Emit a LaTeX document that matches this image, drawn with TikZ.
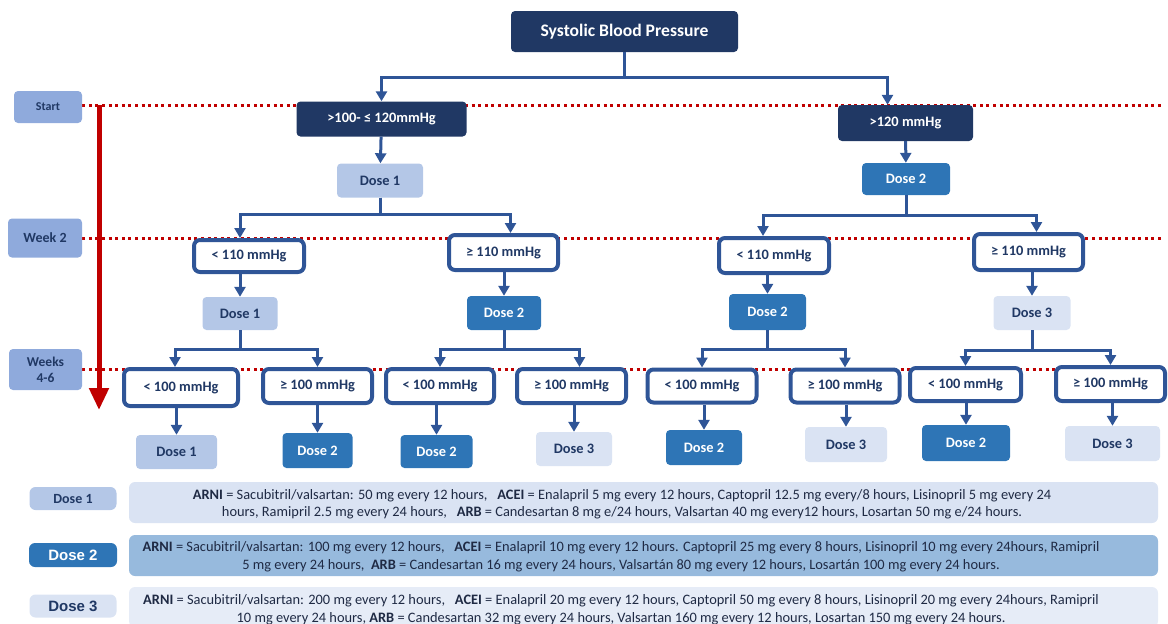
\documentclass[tikz,border=0pt]{standalone}
\usepackage{fontspec}
\setmainfont{Carlito}
\newfontfamily\arialfont{Liberation Sans}
\usetikzlibrary{arrows.meta,positioning,backgrounds}

\definecolor{navy}{HTML}{203864}
\definecolor{linkblue}{HTML}{2F5597}
\definecolor{redline}{HTML}{C00000}
\definecolor{timeblue}{HTML}{8FAADC}
\definecolor{doseA}{HTML}{B4C7E7}
\definecolor{doseB}{HTML}{2E75B6}
\definecolor{doseC}{HTML}{DAE3F3}
\definecolor{legA}{HTML}{DAE3F3}
\definecolor{legB}{HTML}{97BADD}
\definecolor{legC}{HTML}{E6ECF7}
\definecolor{legtext}{HTML}{1F2A44}

\begin{document}
\begin{tikzpicture}[x=1pt,y=-1pt,
  sz/.style 2 args={minimum width=#1pt,minimum height=#2pt},
  box/.style={rounded corners=4pt,align=center,inner sep=0pt,text=navy,
    font=\bfseries\fontsize{14.4}{16}\selectfont},
  head node/.style={box,fill=navy,text=white},
  cut node/.style={box,fill=white,draw=linkblue,line width=4pt,rounded corners=6pt},
  dose one/.style={box,fill=doseA},
  dose two/.style={box,fill=doseB,text=white},
  dose three/.style={box,fill=doseC},
  time node/.style={box,fill=timeblue,font=\bfseries\fontsize{14}{16}\selectfont},
  leg box/.style={box,rounded corners=6pt},
  leg text/.style={align=center,inner sep=0pt,text=legtext,
    font=\fontsize{14.4}{17.5}\selectfont},
  link/.style={-{Triangle[width=11pt,length=10pt]},draw=linkblue,line width=3pt},
  timeline/.style={draw=redline,line width=3pt,dash pattern=on 3pt off 3.6pt},
  bigarrow/.style={-{Triangle[width=19pt,length=22pt]},draw=redline,fill=redline,line width=5pt}]

\useasboundingbox (0,0) rectangle (1168,624);

% time axis
\node[time node,sz={68}{32},font=\bfseries\fontsize{12}{14}\selectfont] (start) at (48,107) {Start};
\node[time node,sz={74}{39}] (wk2) at (45,238) {Week 2};
\node[time node,sz={73}{41},font=\bfseries\fontsize{13.5}{16}\selectfont] (wk46) at (45.5,369.5) {Weeks\\4-6};
\coordinate (lineend) at (1162,0);
\coordinate (axtop) at (99,105);
\coordinate (axbot) at (99,410);

% tree
\node[head node,sz={227}{41},font=\bfseries\fontsize{17.6}{20}\selectfont] (sbp) at (624.5,31.5) {Systolic Blood Pressure};
\node[head node,sz={170}{35}] (lo) at (381.5,119) {>100- ≤ 120mmHg};
\node[head node,sz={135}{36}] (hi) at (905.5,123) {>120 mmHg};

\node[dose one,sz={86}{34}] (d0a) at (380,180.5) {Dose 1};
\node[dose two,sz={88}{32}] (d0b) at (906,179) {Dose 2};

\node[cut node,sz={110}{32}] (c1a) at (249,256) {< 110 mmHg};
\node[cut node,sz={109}{35}] (c1b) at (503.5,252.5) {≥ 110 mmHg};
\node[cut node,sz={110}{35}] (c1c) at (774,255.5) {< 110 mmHg};
\node[cut node,sz={109}{36}] (c1d) at (1028.5,252) {≥ 110 mmHg};

\node[dose one,sz={75}{33}] (d1a) at (240,313.5) {Dose 1};
\node[dose two,sz={74}{34}] (d1b) at (504,313) {Dose 2};
\node[dose two,sz={77}{36}] (d1c) at (767.5,312) {Dose 2};
\node[dose three,sz={77}{34}] (d1d) at (1032,313) {Dose 3};

\node[cut node,sz={114}{37}] (c2a) at (181,387.5) {< 100 mmHg};
\node[cut node,sz={109}{34}] (c2b) at (317.5,386) {≥ 100 mmHg};
\node[cut node,sz={108}{34}] (c2c) at (440,386) {< 100 mmHg};
\node[cut node,sz={109}{34}] (c2d) at (571.5,386) {≥ 100 mmHg};
\node[cut node,sz={109}{33}] (c2e) at (702,386) {< 100 mmHg};
\node[cut node,sz={109}{33}] (c2f) at (845,386) {≥ 100 mmHg};
\node[cut node,sz={111}{33}] (c2g) at (965.5,384.5) {< 100 mmHg};
\node[cut node,sz={109}{34}] (c2h) at (1110.5,384) {≥ 100 mmHg};

\node[dose one,sz={81}{34}] (d2a) at (176.5,452) {Dose 1};
\node[dose two,sz={70}{35}] (d2b) at (317.5,450.5) {Dose 2};
\node[dose two,sz={72}{33}] (d2c) at (436.5,451.5) {Dose 2};
\node[dose three,sz={76}{34}] (d2d) at (574,449) {Dose 3};
\node[dose two,sz={76}{35}] (d2e) at (704,447.5) {Dose 2};
\node[dose three,sz={82}{35}] (d2f) at (846,444.5) {Dose 3};
\node[dose two,sz={88}{36}] (d2g) at (966,443) {Dose 2};
\node[dose three,sz={95}{35}] (d2h) at (1112.5,443.5) {Dose 3};

% legend
\node[leg box,sz={87}{23},fill=doseA,font=\bfseries\fontsize{14}{16}\selectfont] (lg1) at (73,498.5) {Dose 1};
\node[leg box,sz={88}{24},fill=doseB,text=white,font=\arialfont\bfseries\fontsize{15}{17}\selectfont] (lg2) at (73,555) {Dose 2};
\node[leg box,sz={87}{23},fill=doseC,font=\arialfont\bfseries\fontsize{15}{17}\selectfont] (lg3) at (73,606) {Dose 3};

\node[leg box,sz={1029}{41},fill=legA] (lb1) at (643.5,502.5) {};
\node[leg box,sz={1029}{41},fill=legB] (lb2) at (643.5,555.5) {};
\node[leg box,sz={1029}{40},fill=legC] (lb3) at (643.5,607) {};

\node[leg text] (lt1) at (622,504) {\textbf{ARNI} = Sacubitril/valsartan: 50 mg every 12 hours,\ \ \ \textbf{ACEI} = Enalapril 5 mg every 12 hours, Captopril 12.5 mg every/8 hours, Lisinopril 5 mg every 24\\
  hours, Ramipril 2.5 mg every 24 hours,\ \ \ \textbf{ARB} = Candesartan 8 mg e/24 hours, Valsartan 40 mg every12 hours, Losartan 50 mg e/24 hours.};
\node[leg text] (lt2) at (621,556.5) {\textbf{ARNI} = Sacubitril/valsartan: 100 mg every 12 hours,\ \ \ \textbf{ACEI} = Enalapril 10 mg every 12 hours. Captopril 25 mg every 8 hours, Lisinopril 10 mg every 24hours, Ramipril\\
  5 mg every 24 hours,\ \ \textbf{ARB} = Candesartan 16 mg every 24 hours, Valsartán 80 mg every 12 hours, Losartán 100 mg every 24 hours.};
\node[leg text] (lt3) at (621,609.5) {\textbf{ARNI} = Sacubitril/valsartan: 200 mg every 12 hours,\ \ \ \textbf{ACEI} = Enalapril 20 mg every 12 hours, Captopril 50 mg every 8 hours, Lisinopril 20 mg every 24hours, Ramipril\\
  10 mg every 24 hours, \textbf{ARB} = Candesartan 32 mg every 24 hours, Valsartan 160 mg every 12 hours, Losartan 150 mg every 24 hours.};

\begin{scope}[on background layer]
  \draw[timeline] (start.east |- axtop) -- (lineend |- axtop);
  \draw[timeline] (wk2.east) -- (wk2.east -| lineend);
  \draw[timeline] (wk46.east) -- (wk46.east -| lineend);
\end{scope}
\draw[bigarrow] (axtop) -- (axbot);

% branches
\draw[link] (sbp.south) -- ++(0,25) -| (lo.north);
\draw[link] (sbp.south) -- ++(0,25) -| ([xshift=-18pt]hi.north);
\path (lo) edge[link] (d0a)
      (hi) edge[link] (d0b);

\draw[link] (d0a.south) -- ++(0,17) -| ([xshift=-9pt]c1a.north);
\draw[link] (d0a.south) -- ++(0,17) -| ([xshift=7pt]c1b.north);
\draw[link] (d0b.south) -- ++(0,20) -| ([xshift=-11pt]c1c.north);
\draw[link] (d0b.south) -- ++(0,20) -| ([xshift=8pt]c1d.north);

\draw[link] (c1a.south -| d1a.north) -- (d1a.north);
\draw[link] (c1b.south -| d1b.north) -- (d1b.north);
\draw[link] (c1c.south -| d1c.north) -- (d1c.north);
\draw[link] (c1d.south -| d1d.north) -- (d1d.north);

\draw[link] (d1a.south) -- ++(0,19) -| ([xshift=-6pt]c2a.north);
\draw[link] (d1a.south) -- ++(0,19) -| (c2b.north);
\draw[link] (d1b.south) -- ++(0,19) -| (c2c.north);
\draw[link] (d1b.south) -- ++(0,19) -| ([xshift=8pt]c2d.north);
\draw[link] (d1c.south) -- ++(0,19) -| (c2e.north);
\draw[link] (d1c.south) -- ++(0,19) -| (c2f.north);
\draw[link] (d1d.south) -- ++(0,20) -| (c2g.north);
\draw[link] (d1d.south) -- ++(0,20) -| (c2h.north);

\draw[link] (c2a.south -| d2a.north) -- (d2a.north);
\draw[link] (c2b.south -| d2b.north) -- (d2b.north);
\draw[link] (c2c.south -| d2c.north) -- (d2c.north);
\draw[link] (c2d.south -| d2d.north) -- (d2d.north);
\draw[link] (c2e.south -| d2e.north) -- (d2e.north);
\draw[link] (c2f.south -| d2f.north) -- (d2f.north);
\draw[link] (c2g.south -| d2g.north) -- (d2g.north);
\draw[link] (c2h.south -| d2h.north) -- (d2h.north);
\end{tikzpicture}
\end{document}
